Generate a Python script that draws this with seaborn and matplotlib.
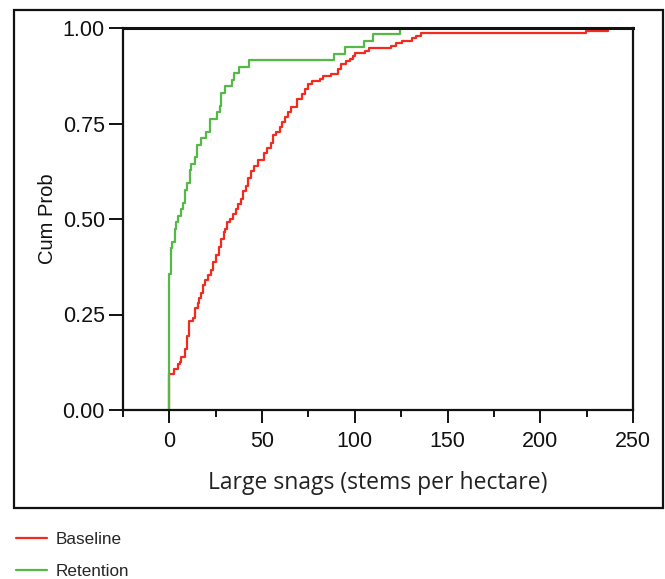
import numpy as np
import pandas as pd
import matplotlib
matplotlib.use("Agg")
import matplotlib.pyplot as plt
from matplotlib.patches import Rectangle
from matplotlib.lines import Line2D
import seaborn as sns

# Large snag density per plot (stems/ha): distinct values and how many plots share each
baseline_values = [0, 2.7, 4.4, 5.8, 6.5, 8.3, 9.3, 10.5, 12.6, 14.0,
                   15.2, 16.0, 16.9, 18.2, 19.4, 21.0, 22.6, 23.5, 25.0, 26.6,
                   28.0, 29.2, 30.0, 31.3, 32.5, 34.3, 35.9, 37.2, 38.8, 39.7,
                   41.2, 42.6, 44.2, 45.7, 47.8, 51.0, 52.8, 54.6, 55.9, 57.7,
                   59.5, 60.8, 62.2, 64.0, 65.8, 68.8, 71.5, 72.9, 74.5, 76.8,
                   81.0, 83.0, 87.2, 90.9, 92.5, 95.4, 97.2, 99.0, 100.3, 105.3,
                   107.4, 119.7, 122.4, 125.5, 131.0, 133.2, 135.5, 224.8, 236.5]
baseline_counts = [14, 2, 2, 1, 2, 3, 5, 6, 1, 4,
                   2, 2, 2, 3, 2, 2, 2, 3, 3, 3,
                   3, 3, 1, 3, 1, 2, 2, 2, 2, 3,
                   2, 3, 3, 2, 2, 3, 2, 2, 3, 1,
                   2, 2, 2, 2, 2, 3, 2, 2, 2, 1,
                   1, 1, 1, 2, 2, 1, 1, 1, 1, 1,
                   1, 1, 1, 1, 1, 1, 1, 1, 1]

retention_values = [0, 0.7, 1.6, 2.9, 3.8, 4.7, 6.1, 7.4, 8.3, 9.5,
                    11.0, 11.9, 14.0, 14.9, 17.2, 19.9, 21.7, 25.6, 27.1, 28.0,
                    30.2, 33.8, 34.9, 37.4, 43.0, 88.6, 94.5, 104.7, 109.8, 124.5]
retention_counts = [21, 4, 1, 2, 1, 1, 1, 1, 2, 1,
                    2, 1, 1, 2, 1, 1, 2, 1, 1, 2,
                    1, 1, 1, 1, 1, 1, 1, 1, 1, 1]

groups = ["Baseline", "Retention"]
colors = {"Baseline": "#f42a1f", "Retention": "#55b948"}

x_ticks = [0, 50, 100, 150, 200, 250]
x_minor = [-25, 25, 75, 125, 175, 225]
y_ticks = [0.00, 0.25, 0.50, 0.75, 1.00]

df = pd.concat([
    pd.DataFrame({"snags": np.repeat(baseline_values, baseline_counts), "group": "Baseline"}),
    pd.DataFrame({"snags": np.repeat(retention_values, retention_counts), "group": "Retention"}),
], ignore_index=True)

sns.set_style("ticks")
plt.rcParams["font.family"] = ["Liberation Sans", "DejaVu Sans"]

fig = plt.figure(figsize=(6.65, 5.79), dpi=100)
ax = fig.add_axes([123 / 665, 1 - 410 / 579, (633 - 123) / 665, (410 - 28) / 579])

for g in groups:
    sns.ecdfplot(data=df[df["group"] == g], x="snags", color=colors[g],
                 linewidth=1.6, ax=ax)

ax.set_xlim(-25, 250)
ax.set_ylim(0, 1)
ax.set_xticks(x_ticks)
ax.set_xticks(x_minor, minor=True)
ax.set_yticks(y_ticks)
ax.set_yticklabels([f"{v:.2f}" for v in y_ticks])

for side in ["left", "right", "top", "bottom"]:
    ax.spines[side].set_visible(True)
    ax.spines[side].set_color("#111111")
    ax.spines[side].set_linewidth(1.6)
ax.spines["top"].set_linewidth(2.2)

ax.tick_params(axis="both", which="major", direction="out", length=9, width=1.4,
               colors="#111111", labelsize=15.5, labelcolor="#111111")
ax.tick_params(axis="y", which="major", length=10, pad=3)
ax.tick_params(axis="x", which="major", pad=6)
ax.tick_params(axis="x", which="minor", direction="out", length=5, width=1.4,
               colors="#111111")

ax.set_xlabel("Large snags (stems per hectare)", family=["Open Sans", "DejaVu Sans"],
              fontsize=16.5, color="#222222", labelpad=14)
ax.set_ylabel("Cum Prob", fontsize=14.5, color="#111111", labelpad=4)

# Frame around the plotting panel
fig.patches.append(Rectangle((14 / 665, 1 - 508 / 579), (663 - 14) / 665, (508 - 10) / 579,
                             transform=fig.transFigure, fill=False,
                             edgecolor="#111111", linewidth=1.6))

handles = [Line2D([], [], color=colors[g], linewidth=1.6) for g in groups]
fig.legend(handles, groups, loc="upper left", bbox_to_anchor=(16 / 665, 1 - 532 / 579),
           frameon=False, fontsize=12.3, handlelength=1.8, handletextpad=0.5,
           labelspacing=0.98, borderpad=0.0, borderaxespad=0.0)

fig.savefig("out.png", dpi=100)
